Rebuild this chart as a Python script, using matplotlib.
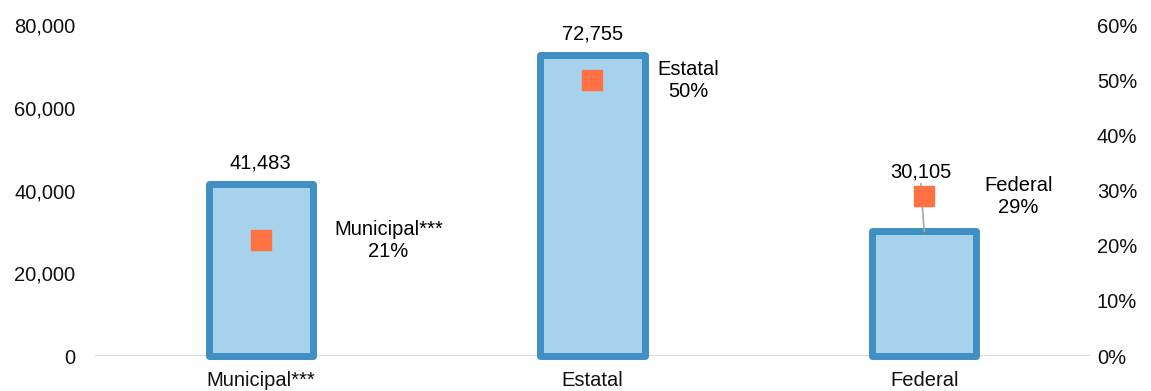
import matplotlib.pyplot as plt
from matplotlib.ticker import FuncFormatter

plt.rcParams['font.family'] = ['Liberation Sans', 'DejaVu Sans']

categorias = ['Municipal***', 'Estatal', 'Federal']
valores = [41483, 72755, 30105]
porcentajes = [21, 50, 29]
etiquetas_pct = ['Municipal***\n21%', 'Estatal\n50%', 'Federal\n29%']

fs = 14.5
fig = plt.figure(figsize=(11.51, 3.91), dpi=100)
ax = fig.add_axes([0.0825, 0.0895, 0.8645, 0.8465])
ax2 = ax.twinx()

x = range(len(categorias))
ax.bar(x, valores, width=0.315, color='#A6D3EB', edgecolor='#3F8FC4',
       linewidth=5, joinstyle='round', clip_on=False, zorder=3)
ax.set_xlim(-0.5, 2.5)
ax.set_ylim(0, 80000)
ax.set_yticks([0, 20000, 40000, 60000, 80000])
ax.yaxis.set_major_formatter(FuncFormatter(lambda v, p: f'{int(v):,}'))
ax.set_xticks(list(x))
ax.set_xticklabels(categorias)

ax2.set_ylim(0, 0.60)
ax2.set_yticks([i / 10 for i in range(7)])
ax2.yaxis.set_major_formatter(FuncFormatter(lambda v, p: f'{v:.0%}'))
ax2.plot(x, [p / 100 for p in porcentajes], linestyle='none', marker='s',
         markersize=15, color='#FF7043', zorder=5)

for a in (ax, ax2):
    for s in a.spines.values():
        s.set_visible(False)
    a.tick_params(length=0, labelsize=fs, colors='#111111')
ax.tick_params(axis='y', pad=14)
ax2.tick_params(axis='y', pad=5)
ax.tick_params(axis='x', pad=11)
ax.axhline(0, color='#D9D9D9', linewidth=1.5, zorder=2)

# etiquetas de valor sobre cada barra
offsets = [(0, 2800), (0, 2800), (-0.01, 12000)]
for i, v in enumerate(valores):
    dx, dy = offsets[i]
    ax.text(i + dx, v + dy, f'{v:,}', ha='center', va='bottom', fontsize=fs)
ax.plot([1.99, 2.0], [v + 11500, v], color='#A6A6A6', linewidth=1.2, zorder=4)

# etiquetas de porcentaje a la derecha de cada barra
pos_pct = [(0.385, 0.21), (0.29, 0.50), (0.285, 0.29)]
for i, t in enumerate(etiquetas_pct):
    dx, y = pos_pct[i]
    ax2.text(i + dx, y, t, ha='center', va='center', fontsize=fs,
             linespacing=1.2)

fig.savefig('out.png', dpi=100)
